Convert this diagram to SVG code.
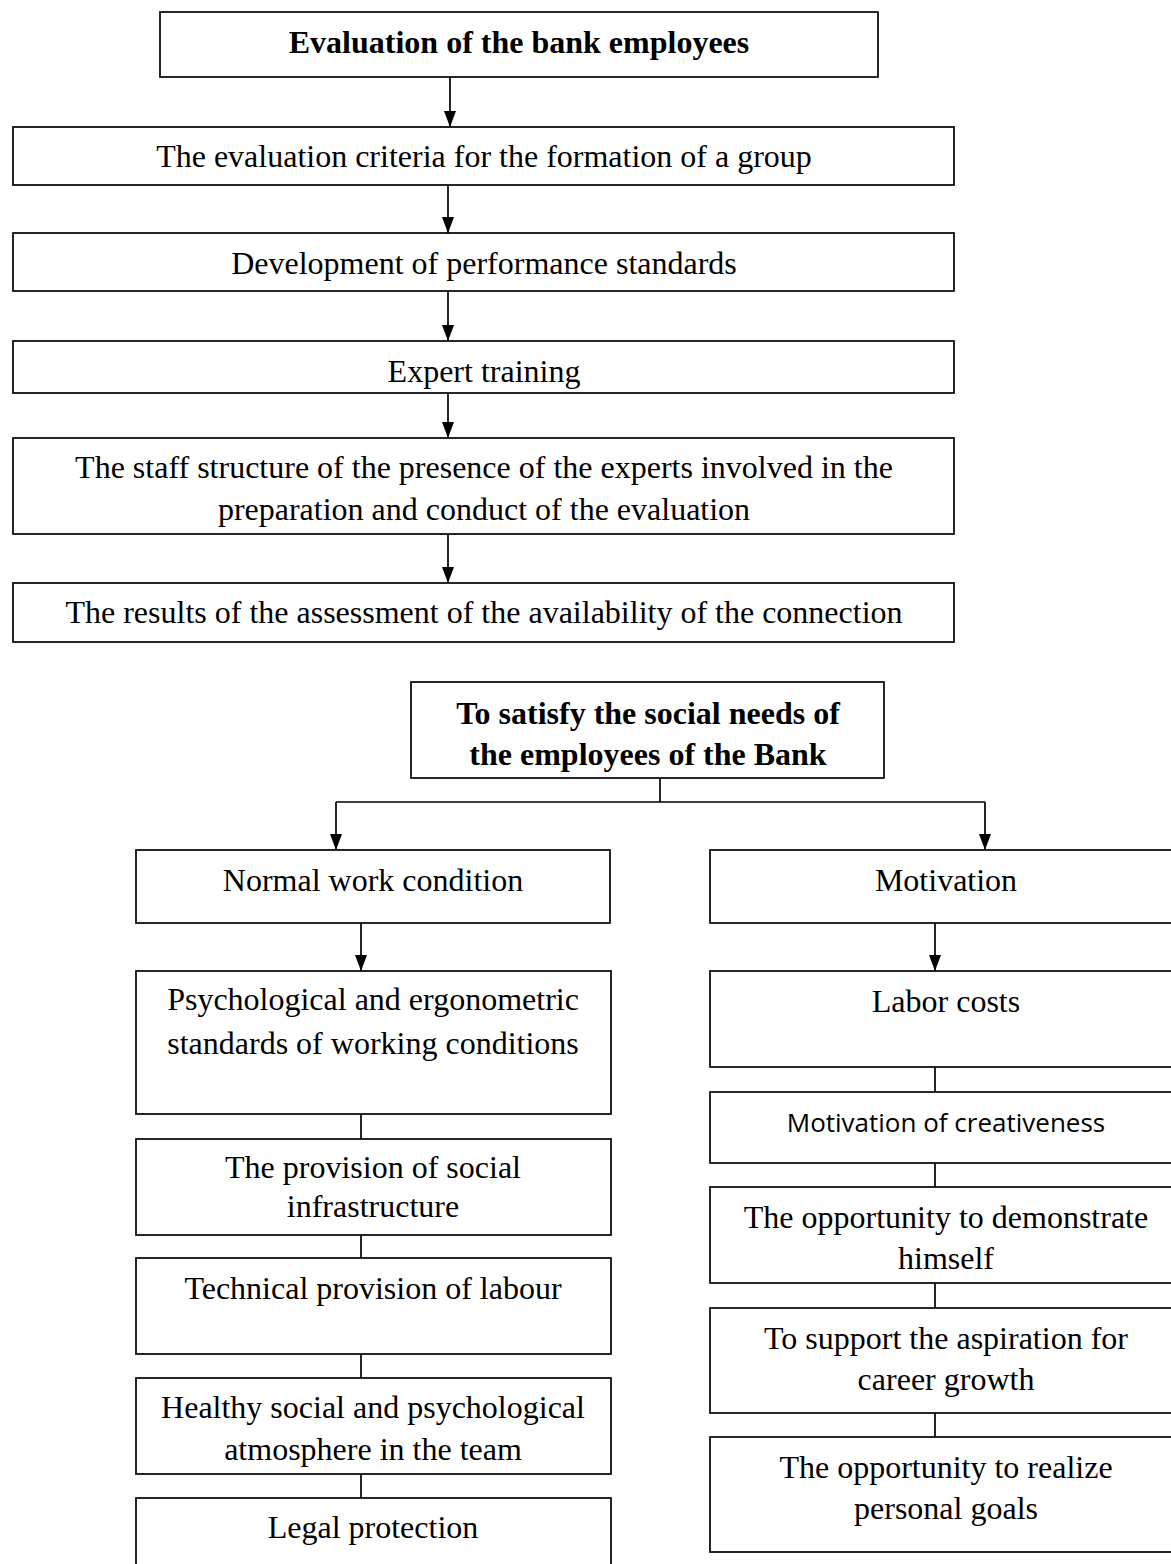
<svg xmlns="http://www.w3.org/2000/svg" width="1171" height="1564" viewBox="0 0 1171 1564">
<style>
rect{fill:#fff;stroke:#000;stroke-width:1.7}
text{font-family:"Liberation Serif","Times New Roman",serif;font-size:32px;fill:#000;text-anchor:middle}
.b{font-weight:bold}
.s{font-family:"Open Sans","Liberation Sans",sans-serif;font-size:26px}
.c path{stroke:#000;stroke-width:1.7;fill:none}
</style>
<defs>
<marker id="ah" markerUnits="userSpaceOnUse" markerWidth="16" markerHeight="12" refX="16" refY="6" orient="auto" viewBox="0 0 16 12">
<path d="M0,0 L16,6 L0,12 Z" fill="#000"/>
</marker>
</defs>
<rect width="1171" height="1564" style="stroke:none"/>
<g class="c" id="connectors">
<path d="M450,77 V127" marker-end="url(#ah)"/>
<path d="M448,185 V233" marker-end="url(#ah)"/>
<path d="M448,291 V341" marker-end="url(#ah)"/>
<path d="M448,393 V438" marker-end="url(#ah)"/>
<path d="M448,534 V583" marker-end="url(#ah)"/>
<path d="M660,778 V802 M336,802 H985"/>
<path d="M336,802 V850" marker-end="url(#ah)"/>
<path d="M985,802 V850" marker-end="url(#ah)"/>
<path d="M361,923 V971" marker-end="url(#ah)"/>
<path d="M935,923 V971" marker-end="url(#ah)"/>
<path d="M361,1114 V1139 M361,1235 V1258 M361,1354 V1378 M361,1474 V1498"/>
<path d="M935,1067 V1092 M935,1163 V1187 M935,1283 V1308 M935,1413 V1437"/>
</g>
<g id="n1"><rect x="160" y="12" width="718" height="65"/><text class="b" x="519" y="53">Evaluation of the bank employees</text></g>
<g id="n2"><rect x="13" y="127" width="941" height="58"/><text x="484" y="167">The evaluation criteria for the formation of a group</text></g>
<g id="n3"><rect x="13" y="233" width="941" height="58"/><text x="484" y="274">Development of performance standards</text></g>
<g id="n4"><rect x="13" y="341" width="941" height="52"/><text x="484" y="382">Expert training</text></g>
<g id="n5"><rect x="13" y="438" width="941" height="96"/><text x="484" y="478">The staff structure of the presence of the experts involved in the</text><text x="484" y="520">preparation and conduct of the evaluation</text></g>
<g id="n6"><rect x="13" y="583" width="941" height="59"/><text x="484" y="623">The results of the assessment of the availability of the connection</text></g>
<g id="n7"><rect x="411" y="682" width="473" height="96"/><text class="b" x="648" y="724">To satisfy the social needs of</text><text class="b" x="648" y="765">the employees of the Bank</text></g>
<g id="n8"><rect x="136" y="850" width="474" height="73"/><text x="373" y="891">Normal work condition</text></g>
<g id="n9"><rect x="710" y="850" width="472" height="73"/><text x="946" y="891">Motivation</text></g>
<g id="n10"><rect x="136" y="971" width="475" height="143"/><text x="373" y="1010">Psychological and ergonometric</text><text x="373" y="1054">standards of working conditions</text></g>
<g id="n11"><rect x="136" y="1139" width="475" height="96"/><text x="373" y="1178">The provision of social</text><text x="373" y="1217">infrastructure</text></g>
<g id="n12"><rect x="136" y="1258" width="475" height="96"/><text x="373" y="1299">Technical provision of labour</text></g>
<g id="n13"><rect x="136" y="1378" width="475" height="96"/><text x="373" y="1418">Healthy social and psychological</text><text x="373" y="1460">atmosphere in the team</text></g>
<g id="n14"><rect x="136" y="1498" width="475" height="100"/><text x="373" y="1538">Legal protection</text></g>
<g id="n15"><rect x="710" y="971" width="472" height="96"/><text x="946" y="1012">Labor costs</text></g>
<g id="n16"><rect x="710" y="1092" width="472" height="71"/><text class="s" x="946" y="1132">Motivation of creativeness</text></g>
<g id="n17"><rect x="710" y="1187" width="472" height="96"/><text x="946" y="1228">The opportunity to demonstrate</text><text x="946" y="1269">himself</text></g>
<g id="n18"><rect x="710" y="1308" width="472" height="105"/><text x="946" y="1349">To support the aspiration for</text><text x="946" y="1390">career growth</text></g>
<g id="n19"><rect x="710" y="1437" width="472" height="115"/><text x="946" y="1478">The opportunity to realize</text><text x="946" y="1519">personal goals</text></g>
</svg>
